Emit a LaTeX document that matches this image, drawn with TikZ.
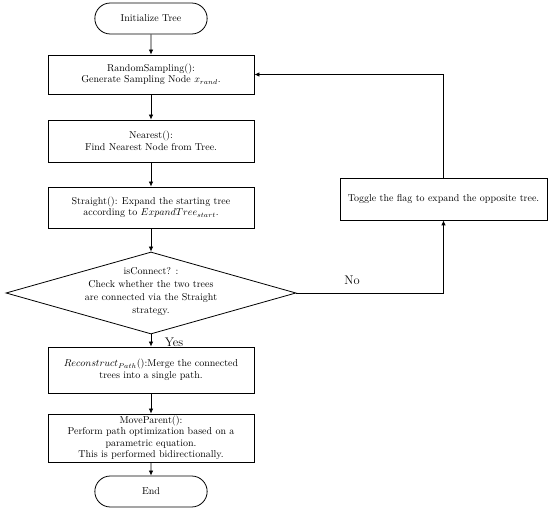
\documentclass[tikz,border=0pt]{standalone}
\usetikzlibrary{shapes.geometric,shapes.misc,arrows.meta}
\begin{document}
\begin{tikzpicture}[x=1pt,y=-1pt,
 font=\fontsize{10}{11.5}\selectfont,
 box/.style={draw, line width=0.8pt, minimum width=206pt, minimum height=#1, align=center, inner sep=1pt},
 term/.style={draw, rounded rectangle, line width=0.8pt, minimum width=119pt, minimum height=31pt},
 decision/.style={draw, diamond, line width=0.8pt, minimum width=290pt, minimum height=82pt, inner sep=0pt},
 arr/.style={line width=0.8pt, -{Latex[length=5pt,width=4.5pt]}},
 lbl/.style={font=\fontsize{12.5}{14}\selectfont}]
\useasboundingbox (0,0) rectangle (550,510);
\node[term] (init) at (151,18.5) {Initialize Tree};
\node[box=39pt] (rs) at (151,74.5) {RandomSampling():\\Generate Sampling Node $x_{rand}$.};
\node[box=42pt] (near) at (151,141) {Nearest():\\Find Nearest Node from Tree.};
\node[box=41pt] (str) at (151,207.5) {Straight(): Expand the starting tree\\according to $ExpandTree_{start}$.};
\node[decision] (dec) at (151,293) {};
\node[align=center, font=\fontsize{10}{13}\selectfont] (dect) at (151,292) {isConnect? :\\Check whether the two trees\\are connected via the Straight\\strategy.};
\node[box=46pt] (rec) at (151,370) {$Reconstruct_{Path}$():Merge the connected\\trees into a single path.};
\node[box=48pt] (mp) at (151,438) {MoveParent():\\Perform path optimization based on a\\parametric equation.\\This is performed bidirectionally.};
\node[term] (end) at (151,491.5) {End};
\node[box=42pt, minimum width=207pt] (tog) at (443.5,199) {Toggle the flag to expand the opposite tree.};
\node[lbl] (yes) at (174,342) {Yes};
\node[lbl] (no) at (352,280) {No};
\draw[arr] (init) -- (rs);
\draw[arr] (rs) -- (near);
\draw[arr] (near) -- (str);
\draw[arr] (str) -- (dec.north);
\draw[arr] (dec.south) -- (rec);
\draw[arr] (rec) -- (mp);
\draw[arr] (mp) -- (end);
\draw[arr] (dec.east) -| (tog.south);
\draw[arr] (tog.north) |- (rs.east);
\end{tikzpicture}
\end{document}
